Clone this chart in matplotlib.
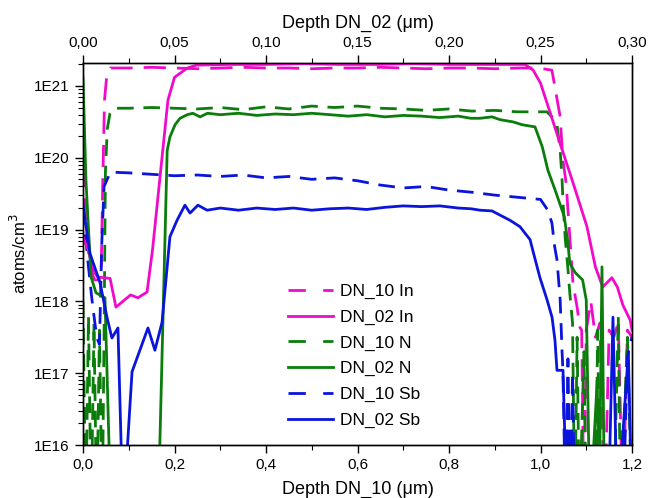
import numpy as np
import matplotlib
matplotlib.use("Agg")
import matplotlib.pyplot as plt
from matplotlib.lines import Line2D
from matplotlib.ticker import FixedLocator, LogLocator, MultipleLocator, FuncFormatter, NullFormatter

plt.rcParams.update({
    "font.family": ["Liberation Sans", "DejaVu Sans"],
    "font.size": 11,
    "axes.linewidth": 1.0,
})

LOW = 15.0  # below axis floor (log10), draws lines to the bottom

# DN_10 series, bottom axis (um), values as log10(atoms/cm3)
dn10_in_x = [0, 0.008, 0.015, 0.025, 0.035, 0.040, 0.043, 0.047, 0.052, 0.060,
             0.10, 0.15, 0.20, 0.25, 0.30, 0.35, 0.40, 0.45, 0.50, 0.55, 0.60,
             0.65, 0.70, 0.75, 0.80, 0.85, 0.90, 0.95, 0.995, 1.025, 1.043,
             1.049, 1.056, 1.064, 1.071, 1.080, 1.086, 1.090, 1.095, 1.100,
             1.110, 1.120, 1.130, 1.140, 1.150, 1.160, 1.170, 1.180, 1.190, 1.200]
dn10_in_log = [19.9, 19.0, 18.5, 18.3, 18.3, 18.5, 19.6, 20.8, 21.15, 21.25,
               21.25, 21.26, 21.25, 21.24, 21.25, 21.26, 21.25, 21.25, 21.24, 21.25, 21.25,
               21.26, 21.25, 21.24, 21.25, 21.25, 21.24, 21.25, 21.25, 21.22, 20.57,
               19.97, 19.65, 18.9, 18.25, 17.92, 17.64, 17.6, LOW, 17.6,
               18.0, 17.5, 17.7, LOW, 17.6, 17.5, 17.7, LOW, 17.6, 17.5]

dn10_n_x = [0, 0.006, 0.012, 0.018, 0.024, 0.030, 0.036, 0.042, 0.046, 0.049,
            0.053, 0.059, 0.066, 0.10, 0.15, 0.20, 0.25, 0.30, 0.35, 0.40, 0.45,
            0.50, 0.55, 0.60, 0.65, 0.70, 0.75, 0.80, 0.85, 0.90, 0.95, 1.00,
            1.014, 1.025, 1.036, 1.043, 1.047, 1.049, 1.054, 1.060, 1.064,
            1.070, 1.075, 1.080, 1.085, 1.095, 1.100, 1.120, 1.125, 1.130,
            1.160, 1.170, 1.175, 1.190, 1.200]
dn10_n_log = [18.0, LOW, 17.8, LOW, 17.7, LOW, 17.6, LOW, 17.5, 19.8,
              20.4, 20.62, 20.69, 20.69, 20.7, 20.69, 20.68, 20.7, 20.67, 20.71, 20.68,
              20.72, 20.7, 20.72, 20.69, 20.68, 20.66, 20.68, 20.65, 20.66, 20.64, 20.64,
              20.64, 20.57, 20.46, 20.1, 19.72, 19.4, 18.88, 18.45, 18.12,
              17.7, LOW, 17.5, LOW, 17.3, LOW, LOW, 17.6, LOW,
              LOW, 17.8, LOW, 17.5, LOW]

dn10_sb_x = [0, 0.01, 0.02, 0.03, 0.036, 0.041, 0.046, 0.060, 0.10, 0.15, 0.20,
             0.25, 0.30, 0.35, 0.40, 0.45, 0.50, 0.55, 0.60, 0.65, 0.70, 0.75,
             0.80, 0.85, 0.90, 0.95, 1.00, 1.016, 1.025, 1.031, 1.036, 1.043,
             1.047, 1.049, 1.055, 1.060, 1.065, 1.070, 1.075, 1.180, 1.190,
             1.195, 1.200]
dn10_sb_log = [19.3, 18.6, 18.0, 17.5, 17.4, 18.8, 19.6, 19.8, 19.79, 19.77, 19.75,
               19.76, 19.74, 19.76, 19.72, 19.74, 19.7, 19.72, 19.68, 19.62, 19.58, 19.6,
               19.55, 19.52, 19.48, 19.45, 19.42, 19.27, 19.09, 18.76, 18.58, 18.02,
               17.32, 17.04, LOW, 17.2, LOW, 17.0, LOW, LOW, 17.2,
               17.4, 17.5]

# DN_02 series, top axis (um)
dn02_in_x = [0, 0.003, 0.0055, 0.008, 0.0148, 0.018, 0.026, 0.030, 0.035, 0.038,
             0.0464, 0.050, 0.057, 0.062, 0.08, 0.10, 0.12, 0.14, 0.16, 0.18,
             0.20, 0.22, 0.2415, 0.246, 0.250, 0.2536, 0.2607, 0.2678, 0.2754,
             0.280, 0.284, 0.289, 0.292, 0.295, 0.299, 0.300]
dn02_in_log = [18.9, 18.7, 18.44, 18.34, 18.32, 17.92, 18.09, 18.05, 18.13, 18.72,
               20.8, 21.12, 21.25, 21.29, 21.3, 21.3, 21.31, 21.3, 21.3, 21.31,
               21.3, 21.3, 21.3, 21.22, 21.04, 20.76, 20.2, 19.65, 19.04,
               18.48, 18.2, 18.33, 18.2, 17.95, 17.74, 17.6]

dn02_n_x = [0, 0.0016, 0.0044, 0.0071, 0.012, 0.0153, 0.041, 0.046, 0.0475, 0.0503,
            0.053, 0.057, 0.060, 0.064, 0.068, 0.075, 0.085, 0.095, 0.105, 0.115,
            0.125, 0.135, 0.145, 0.155, 0.165, 0.175, 0.185, 0.195, 0.205, 0.212,
            0.217, 0.2235, 0.228, 0.235, 0.240, 0.247, 0.251, 0.254, 0.258, 0.263,
            0.265, 0.266, 0.269, 0.273, 0.275, 0.277, 0.281, 0.282, 0.2836, 0.285,
            0.290, 0.300]
dn02_n_log = [21.11, 19.69, 18.34, 18.12, 18.05, LOW, LOW, 20.1, 20.29, 20.46,
              20.55, 20.6, 20.62, 20.57, 20.62, 20.6, 20.62, 20.59, 20.61, 20.6,
              20.62, 20.6, 20.58, 20.6, 20.57, 20.59, 20.58, 20.56, 20.58, 20.55,
              20.55, 20.57, 20.53, 20.5, 20.46, 20.43, 20.15, 19.83, 19.55, 19.18,
              18.81, 18.53, 18.4, 18.3, 18.02, LOW, 16.9, LOW, 18.48, LOW,
              LOW, LOW]

dn02_sb_x = [0, 0.0027, 0.0038, 0.0093, 0.0131, 0.0158, 0.0191, 0.0219, 0.0268,
             0.0355, 0.0393, 0.0432, 0.0475, 0.0514, 0.0557, 0.0585, 0.0628, 0.0678,
             0.075, 0.085, 0.095, 0.105, 0.115, 0.125, 0.135, 0.145, 0.155, 0.165,
             0.175, 0.185, 0.195, 0.205, 0.212, 0.217, 0.2235, 0.228, 0.2333,
             0.2388, 0.2443, 0.2459, 0.2497, 0.2536, 0.2563, 0.2579, 0.259, 0.2623,
             0.2645, 0.287, 0.2896, 0.292, 0.298, 0.300]
dn02_sb_log = [19.34, 18.86, 18.67, 18.26, 17.78, 17.49, 17.63, LOW, 17.02,
               17.63, 17.32, 17.71, 18.9, 19.13, 19.34, 19.23, 19.34, 19.27,
               19.3, 19.27, 19.3, 19.28, 19.3, 19.27, 19.29, 19.3, 19.28, 19.31,
               19.33, 19.32, 19.33, 19.3, 19.29, 19.27, 19.26, 19.2, 19.13,
               19.04, 18.86, 18.7, 18.33, 18.02, 17.78, 17.46, 17.04, 17.04,
               LOW, LOW, 17.78, LOW, 17.3, LOW]

MAGENTA = "#F00ACA"
GREEN = "#0B7D0B"
BLUE = "#0A14DC"
LW = 2.0

fig = plt.figure(figsize=(6.49, 4.98), dpi=100)
ax = fig.add_axes([83 / 649, 1 - 445 / 498, 549 / 649, 382 / 498])
ax2 = ax.twiny()

dash_long = (8, 4)
dash_short = (6, 3.5)

def y(v):
    return 10.0 ** np.asarray(v)

ax.plot(dn10_in_x, y(dn10_in_log), color=MAGENTA, lw=LW, dashes=dash_long)
ax.plot(dn10_n_x, y(dn10_n_log), color=GREEN, lw=LW, dashes=dash_short)
ax.plot(dn10_sb_x, y(dn10_sb_log), color=BLUE, lw=LW, dashes=dash_short)

ax2.plot(dn02_in_x, y(dn02_in_log), color=MAGENTA, lw=LW)
ax2.plot(dn02_n_x, y(dn02_n_log), color=GREEN, lw=LW)
ax2.plot(dn02_sb_x, y(dn02_sb_log), color=BLUE, lw=LW)

ax.set_yscale("log")
ax.set_ylim(1e16, 10 ** 21.32)
ax.set_xlim(0, 1.2)
ax2.set_xlim(0, 0.30)

ax.yaxis.set_major_locator(FixedLocator([1e16, 1e17, 1e18, 1e19, 1e20, 1e21]))
ax.yaxis.set_major_formatter(FuncFormatter(lambda v, p: "1E%d" % round(np.log10(v))))
ax.yaxis.set_minor_locator(LogLocator(base=10, subs=np.arange(2, 10), numticks=20))
ax.yaxis.set_minor_formatter(NullFormatter())

ax.xaxis.set_major_locator(MultipleLocator(0.2))
ax.xaxis.set_minor_locator(MultipleLocator(0.1))
ax.xaxis.set_major_formatter(FuncFormatter(lambda v, p: f"{v:.1f}".replace(".", ",")))
ax2.xaxis.set_major_locator(MultipleLocator(0.05))
ax2.xaxis.set_minor_locator(MultipleLocator(0.025))
ax2.xaxis.set_major_formatter(FuncFormatter(lambda v, p: f"{v:.2f}".replace(".", ",")))

for a in (ax, ax2):
    a.tick_params(which="major", direction="out", length=6, width=1.0, labelsize=11)
    a.tick_params(which="minor", direction="out", length=3.5, width=0.8)
ax.tick_params(axis="y", which="both", right=False)

ax.set_ylabel("atoms/cm$^3$", fontsize=12, labelpad=4)
ax.set_xlabel("Depth DN_10 (\u03bcm)", fontsize=13, labelpad=6)
ax2.set_xlabel("Depth DN_02 (\u03bcm)", fontsize=13, labelpad=6)

leg_dash = (6.25, 6.25)
handles = [
    Line2D([], [], color=MAGENTA, lw=LW, dashes=leg_dash),
    Line2D([], [], color=MAGENTA, lw=LW),
    Line2D([], [], color=GREEN, lw=LW, dashes=leg_dash),
    Line2D([], [], color=GREEN, lw=LW),
    Line2D([], [], color=BLUE, lw=LW, dashes=leg_dash),
    Line2D([], [], color=BLUE, lw=LW),
]
labels = ["DN_10 In", "DN_02 In", "DN_10 N", "DN_02 N", "DN_10 Sb", "DN_02 Sb"]
fig.legend(handles, labels, loc="upper left",
           bbox_to_anchor=(288 / 649, 1 - 284 / 498),
           frameon=False, fontsize=12.5, handlelength=2.6,
           handletextpad=0.4, labelspacing=0.6, borderpad=0, borderaxespad=0)

fig.savefig("out.png", dpi=100)
